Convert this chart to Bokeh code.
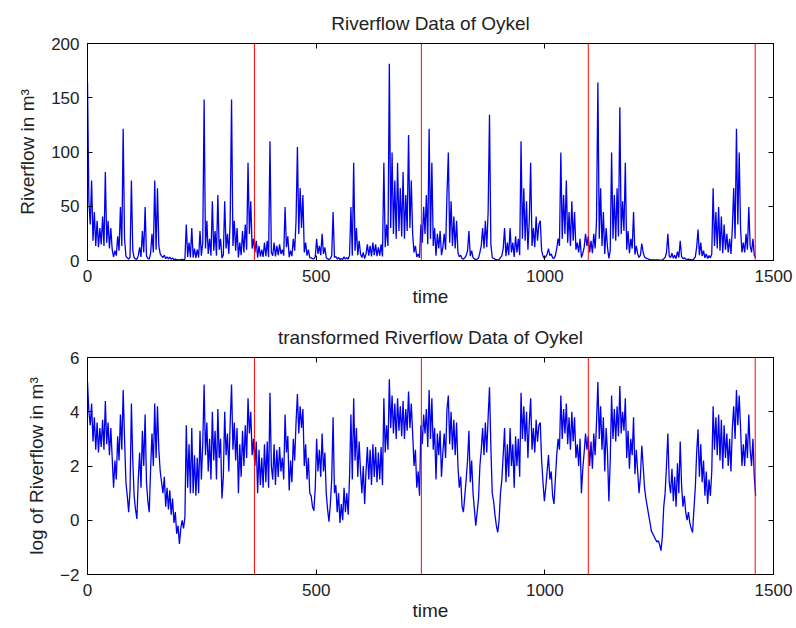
import numpy as np
from bokeh.plotting import figure
from bokeh.models import Range1d, LinearAxis, FixedTicker, Span
from bokeh.layouts import column
from bokeh.embed import file_html
from bokeh.resources import INLINE

# log of riverflow, every 3 days (t = 0, 3, ..., 1461)
log_flow = [
    5.1, 4.0, 3.5, 4.3, 2.9, 3.8, 2.6, 3.6, 2.5, 3.4,
    2.7, 3.7, 2.6, 4.4, 2.8, 3.6, 2.4, 3.4, 2.3, 1.2,
    2.2, 1.5, 3.1, 2.2, 3.9, 2.6, 4.8, 3.0, 1.4, 0.9,
    0.3, 1.1, 4.3, 2.2, 0.9, 0.4, 0.05, 1.5, 2.5, 1.2,
    3.3, 2.0, 3.9, 1.4, 0.7, 0.3, 1.9, 3.2, 2.0, 4.3,
    2.3, 4.2, 2.6, 1.8, 1.4, 1.0, 1.6, 0.5, 1.2, 0.4,
    1.1, 0.2, 0.8, -0.1, 0.3, -0.5, -0.2, -0.87, -0.3, 0.0,
    -0.3, 0.1, 3.5, 1.2, 2.8, 1.0, 3.4, 1.0, 2.4, 0.9,
    2.3, 1.0, 3.3, 1.5, 2.8, 5.0, 2.4, 3.6, 1.8, 3.0,
    1.5, 4.0, 2.2, 3.3, 1.5, 4.1, 2.3, 3.0, 0.8, 1.6,
    4.0, 2.4, 3.2, 1.8, 3.6, 5.0, 2.6, 3.6, 2.2, 3.4,
    1.0, 2.8, 1.6, 3.3, 2.0, 3.5, 2.3, 4.5, 3.2, 4.0,
    2.4, 3.0, 2.0, 2.9, 1.0, 2.6, 1.3, 2.3, 1.2, 2.8,
    1.4, 2.9, 1.2, 4.7, 2.0, 1.5, 2.8, 1.3, 2.6, 1.6,
    2.7, 1.8, 2.3, 1.5, 3.9, 2.5, 3.1, 1.1, 2.2, 1.4,
    3.0, 2.2, 3.6, 4.65, 3.2, 4.2, 3.4, 4.1, 2.0, 2.8,
    1.5, 2.3, 1.0, 0.9, 0.5, 0.35, 1.2, 3.0, 1.8, 2.6,
    1.6, 3.2, 1.8, 2.5, 1.0, 0.4, -0.05, 0.6, 1.5, 3.8,
    1.0, 1.3, 0.3, 1.0, -0.1, 0.6, 0.0, 1.2, 0.3, 1.0,
    0.2, 1.6, 3.9, 1.5, 4.5, 2.2, 3.4, 1.6, 2.9, 1.8,
    1.0, 2.0, 0.6, 1.8, 2.7, 1.5, 2.6, 1.3, 2.8, 1.6,
    2.7, 1.4, 2.5, 1.5, 2.7, 1.3, 4.5, 2.5, 3.5, 2.6,
    5.2, 3.4, 4.6, 3.2, 4.3, 3.0, 4.5, 3.3, 4.2, 3.1,
    4.4, 3.0, 4.1, 3.3, 4.75, 3.4, 4.3, 3.2, 2.0, 2.6,
    1.2, 1.8, 0.9, 3.5, 2.8, 3.9, 3.2, 4.1, 2.7, 4.8,
    3.0, 4.5, 2.6, 3.4, 1.5, 3.2, 2.4, 3.3, 1.6, 2.5,
    3.2, 2.3, 4.1, 4.6, 2.8, 4.0, 2.6, 3.7, 2.4, 3.6,
    2.0, 1.2, 1.6, 0.5, 0.3, 0.9, 1.5, 2.2, 3.3, 1.4,
    2.2, 1.0, 0.4, -0.2, 0.3, 0.8, 2.0, 2.6, 3.4, 2.4,
    3.6, 2.5, 3.8, 4.9, 2.7, 1.0, 0.7, 0.2, -0.2, -0.45,
    0.0, 1.0, 1.5, 2.4, 3.4, 1.4, 2.8, 1.6, 3.4, 2.0,
    2.8, 1.2, 3.1, 2.0, 3.0, 1.6, 4.7, 3.0, 4.2, 2.9,
    4.0, 2.3, 3.6, 4.5, 2.6, 3.4, 2.5, 3.7, 2.9, 3.5,
    3.6, 2.2, 1.4, 0.7, 1.2, 1.8, 2.4, 1.5, 1.8, 0.9,
    0.6, 1.5, 2.4, 3.0, 2.6, 4.6, 3.0, 4.1, 3.2, 4.3,
    2.8, 3.8, 2.6, 4.0, 2.9, 3.8, 2.3, 2.8, 2.0, 3.0,
    1.0, 1.9, 2.5, 3.2, 2.6, 3.1, 2.0, 2.9, 1.9, 3.2,
    2.4, 3.6, 5.1, 3.0, 4.2, 2.6, 3.8, 1.8, 3.4, 2.5,
    0.7, 2.2, 4.6, 3.0, 4.1, 2.9, 4.2, 3.1, 4.95, 3.2,
    4.0, 3.3, 4.5, 2.3, 3.3, 1.9, 3.0, 2.4, 3.8, 1.7,
    2.6, 1.8, 1.0, 1.6, 2.75, 2.0, 1.2, 0.8, 0.5, 0.2,
    -0.1, -0.4, -0.5, -0.6, -0.7, -0.8, -0.75, -0.9, -1.12, -0.6,
    0.5, 1.0, 2.0, 3.2, 1.4, 1.0, 1.9, 0.7, 1.6, 0.5,
    2.1, 1.0, 2.9, 1.3, 0.5, 0.9, 0.3, 0.0, 0.3, -0.1,
    -0.3, -0.45, 0.4, 1.2, 2.5, 3.35, 1.6, 2.8, 1.4, 2.2,
    0.9, 1.8, 0.6, 1.5, 0.9, 1.8, 4.2, 2.6, 3.8, 2.4,
    3.9, 2.2, 3.7, 1.9, 3.5, 2.3, 3.2, 2.0, 3.0, 1.8,
    3.4, 4.2, 3.0, 4.8, 3.5, 4.6, 3.4, 2.0, 2.8, 2.0,
    3.2, 2.3, 3.9, 2.6, 2.0, 3.0, 1.6, 0.9,
]
time = list(range(0, 3 * len(log_flow), 3))
flow = np.exp(log_flow).tolist()

year_marks = [365, 730, 1095, 1460]
x_ticks = [0, 500, 1000, 1500]
y_ticks_top = [0, 50, 100, 150, 200]
y_ticks_bottom = [-2, 0, 2, 4, 6]

FONT = "Liberation Sans"


def style_axis(ax, ticks, show_labels=True):
    ax.ticker = FixedTicker(ticks=ticks)
    ax.major_tick_in = 5
    ax.major_tick_out = 0
    ax.minor_tick_line_color = None
    ax.axis_line_color = "black"
    ax.major_tick_line_color = "black"
    ax.major_label_text_font = FONT
    ax.major_label_text_font_size = "17px"
    ax.major_label_text_color = "#222222"
    ax.axis_label_text_font = FONT
    ax.axis_label_text_font_size = "19px"
    ax.axis_label_text_font_style = "normal"
    ax.axis_label_text_color = "#222222"
    if not show_labels:
        ax.major_label_text_font_size = "0px"
        ax.major_label_text_alpha = 0
        ax.major_label_standoff = 0


def make(title, ylabel, y, yr, yticks):
    p = figure(width=796, height=314,
               x_range=Range1d(0, 1500), y_range=Range1d(*yr),
               output_backend="svg", toolbar_location=None,
               min_border_left=87, min_border_right=23,
               min_border_top=43, min_border_bottom=54)
    p.title.text = title
    p.title.align = "center"
    p.title.text_font = FONT
    p.title.text_font_size = "19px"
    p.title.text_font_style = "normal"
    p.title.text_color = "#222222"
    p.title.standoff = 19
    p.grid.visible = False
    p.outline_line_color = "black"
    p.background_fill_color = "white"
    p.border_fill_color = "white"

    p.line(time, y, line_color="#0000ee", line_width=1.3)
    for m in year_marks:
        p.add_layout(Span(location=m, dimension="height", line_color="red", line_width=1))

    style_axis(p.xaxis[0], x_ticks)
    p.xaxis[0].axis_label = "time"
    p.xaxis[0].major_label_standoff = 9
    p.xaxis[0].axis_label_standoff = 1
    style_axis(p.yaxis[0], yticks)
    p.yaxis[0].axis_label = ylabel
    p.yaxis[0].major_label_standoff = 8
    p.yaxis[0].axis_label_standoff = 10

    top = LinearAxis()
    style_axis(top, x_ticks, show_labels=False)
    p.add_layout(top, "above")
    right = LinearAxis()
    style_axis(right, yticks, show_labels=False)
    p.add_layout(right, "right")
    return p


p1 = make("Riverflow Data of Oykel", "Riverflow in m\u00b3", flow, (0, 200), y_ticks_top)
p2 = make("transformed Riverflow Data of Oykel", "log of Riverflow in m\u00b3", log_flow, (-2, 6), y_ticks_bottom)

p = column(p1, p2)
open("out.html", "w").write(file_html(p, INLINE))
